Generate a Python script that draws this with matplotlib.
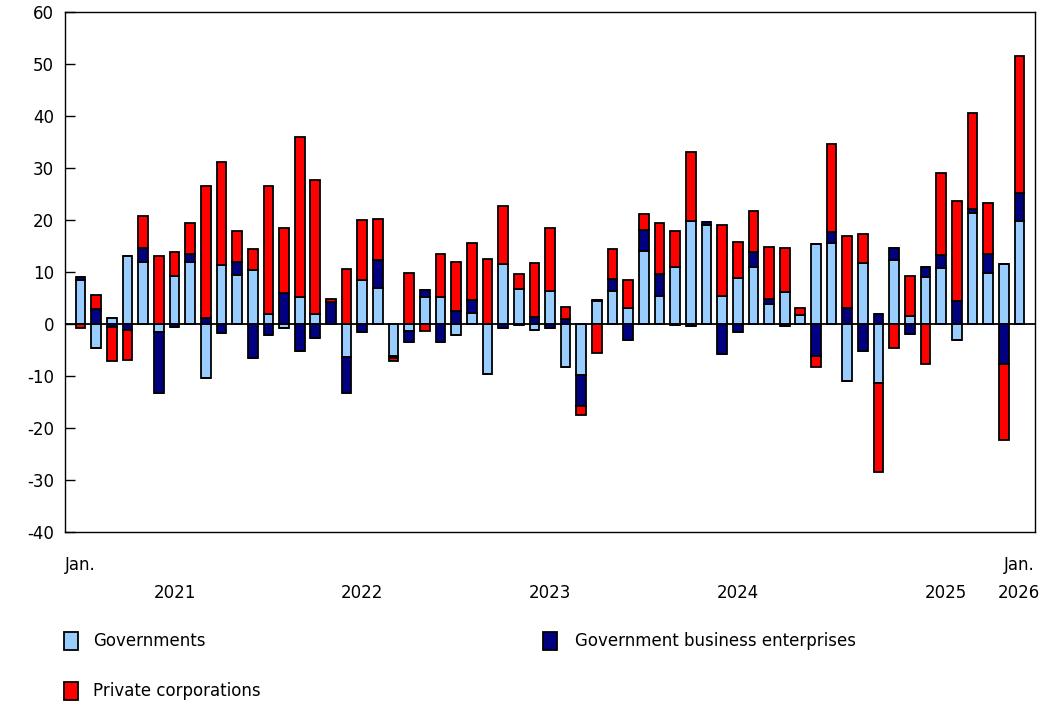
import numpy as np
import matplotlib
matplotlib.use("Agg")
import matplotlib.pyplot as plt
from matplotlib.patches import Rectangle
import matplotlib.transforms as mtransforms

# Monthly values, Jan. 2021 to Jan. 2026
governments = [8.5, -4.7, 1.1, 13.1, 12.0, -1.5, 9.3, 11.9, -10.4, 11.3,
               9.5, 10.4, 2.0, -0.8, 5.1, 2.0, 0.0, -6.4, 8.5, 7.0,
               -6.2, -1.4, 5.1, 5.1, -2.1, 2.2, -9.6, 11.5, 6.8, -1.2,
               6.4, -8.2, -9.8, 4.4, 6.4, 3.1, 14.0, 5.3, 10.9, 19.9,
               19.0, 5.3, 8.8, 10.9, 3.8, 6.1, 1.7, 15.4, 15.6, -11.0,
               11.7, -11.3, 12.3, 1.5, 9.1, 10.7, -3.0, 21.3, 9.9, 11.5,
               19.9]
gov_business = [0.6, 2.9, -0.6, -1.2, 2.7, -11.8, -0.5, 1.5, 1.1, -1.8,
                2.5, -6.5, -2.1, 5.9, -5.2, -2.6, 4.2, -6.8, -1.6, 5.3,
                -0.3, -2.0, 1.4, -3.4, 2.5, 2.4, 0.0, -0.7, -0.2, 1.4,
                -0.7, 1.0, -5.9, 0.3, 2.3, -3.1, 4.1, 4.3, -0.1, -0.3,
                0.6, -5.7, -1.6, 2.9, 1.0, -0.4, 0.0, -6.1, 2.0, 3.1,
                -5.1, 2.0, 2.4, -2.0, 1.9, 2.6, 4.4, 0.9, 3.6, -7.6,
                5.2]
private = [-0.7, 2.7, -6.6, -5.7, 6.1, 13.1, 4.5, 6.0, 25.4, 19.8,
           5.9, 4.0, 24.6, 12.5, 30.8, 25.7, 0.6, 10.5, 11.5, 7.8,
           -0.6, 9.9, -1.3, 8.4, 9.4, 10.9, 12.5, 11.1, 2.9, 10.3,
           12.1, 2.2, -1.8, -5.6, 5.7, 5.4, 3.0, 9.8, 6.9, 13.1,
           0.0, 13.8, 7.0, 8.0, 10.1, 8.5, 1.4, -2.2, 17.0, 13.9,
           5.6, -17.2, -4.7, 7.8, -7.6, 15.8, 19.3, 18.4, 9.8, -14.8,
           26.4]

series_names = ["Governments", "Government business enterprises", "Private corporations"]
colors = ["#99CCFF", "#000080", "#FF0000"]

year_labels = ["2021", "2022", "2023", "2024", "2025", "2026"]
year_pos = [6, 18, 30, 42, 55.3, 60]

plt.rcParams['font.family'] = ['DejaVu Sans']
plt.rcParams['axes.unicode_minus'] = False

fig = plt.figure(figsize=(10.48, 7.05), dpi=100)
ax = fig.add_axes([65 / 1048, 1 - 532 / 705, 970 / 1048, 520 / 705])

x = np.arange(len(governments))
pos_base = np.zeros(len(x))
neg_base = np.zeros(len(x))
for vals, col in zip([governments, gov_business, private], colors):
    v = np.array(vals)
    pos = np.where(v > 0, v, 0)
    neg = np.where(v < 0, v, 0)
    ax.bar(x, pos, bottom=pos_base, width=0.62, color=col,
           edgecolor="black", linewidth=1.3, zorder=2)
    ax.bar(x, neg, bottom=neg_base, width=0.62, color=col,
           edgecolor="black", linewidth=1.3, zorder=2)
    pos_base += pos
    neg_base += neg

ax.axhline(0, color="black", linewidth=1.3, zorder=3)
ax.set_xlim(-1, 61)
ax.set_ylim(-40, 60)
ax.set_yticks(np.arange(-40, 61, 10))
ax.tick_params(axis="y", direction="in", length=7, width=1, labelsize=12, pad=8)
ax.set_xticks([])
for sp in ax.spines.values():
    sp.set_linewidth(1)

trans = mtransforms.blended_transform_factory(ax.transData, ax.transAxes)
ax.text(0, -0.063, "Jan.", transform=trans, ha="center", va="center", fontsize=12)
ax.text(60, -0.063, "Jan.", transform=trans, ha="center", va="center", fontsize=12)
for lab, p in zip(year_labels, year_pos):
    ax.text(p, -0.117, lab, transform=trans, ha="center", va="center", fontsize=12)

# legend drawn by hand
legend_items = [(64, 641, 93), (543, 641, 575), (64, 691, 93)]
for (sx, sy, tx), name, col in zip(legend_items, series_names, colors):
    fig.patches.append(Rectangle((sx / 1048, 1 - (sy + 9) / 705), 14 / 1048, 18 / 705,
                                 transform=fig.transFigure, facecolor=col,
                                 edgecolor="black", linewidth=1.3))
    fig.text(tx / 1048, 1 - sy / 705, name, ha="left", va="center", fontsize=12)

fig.savefig("out.png", dpi=100)
